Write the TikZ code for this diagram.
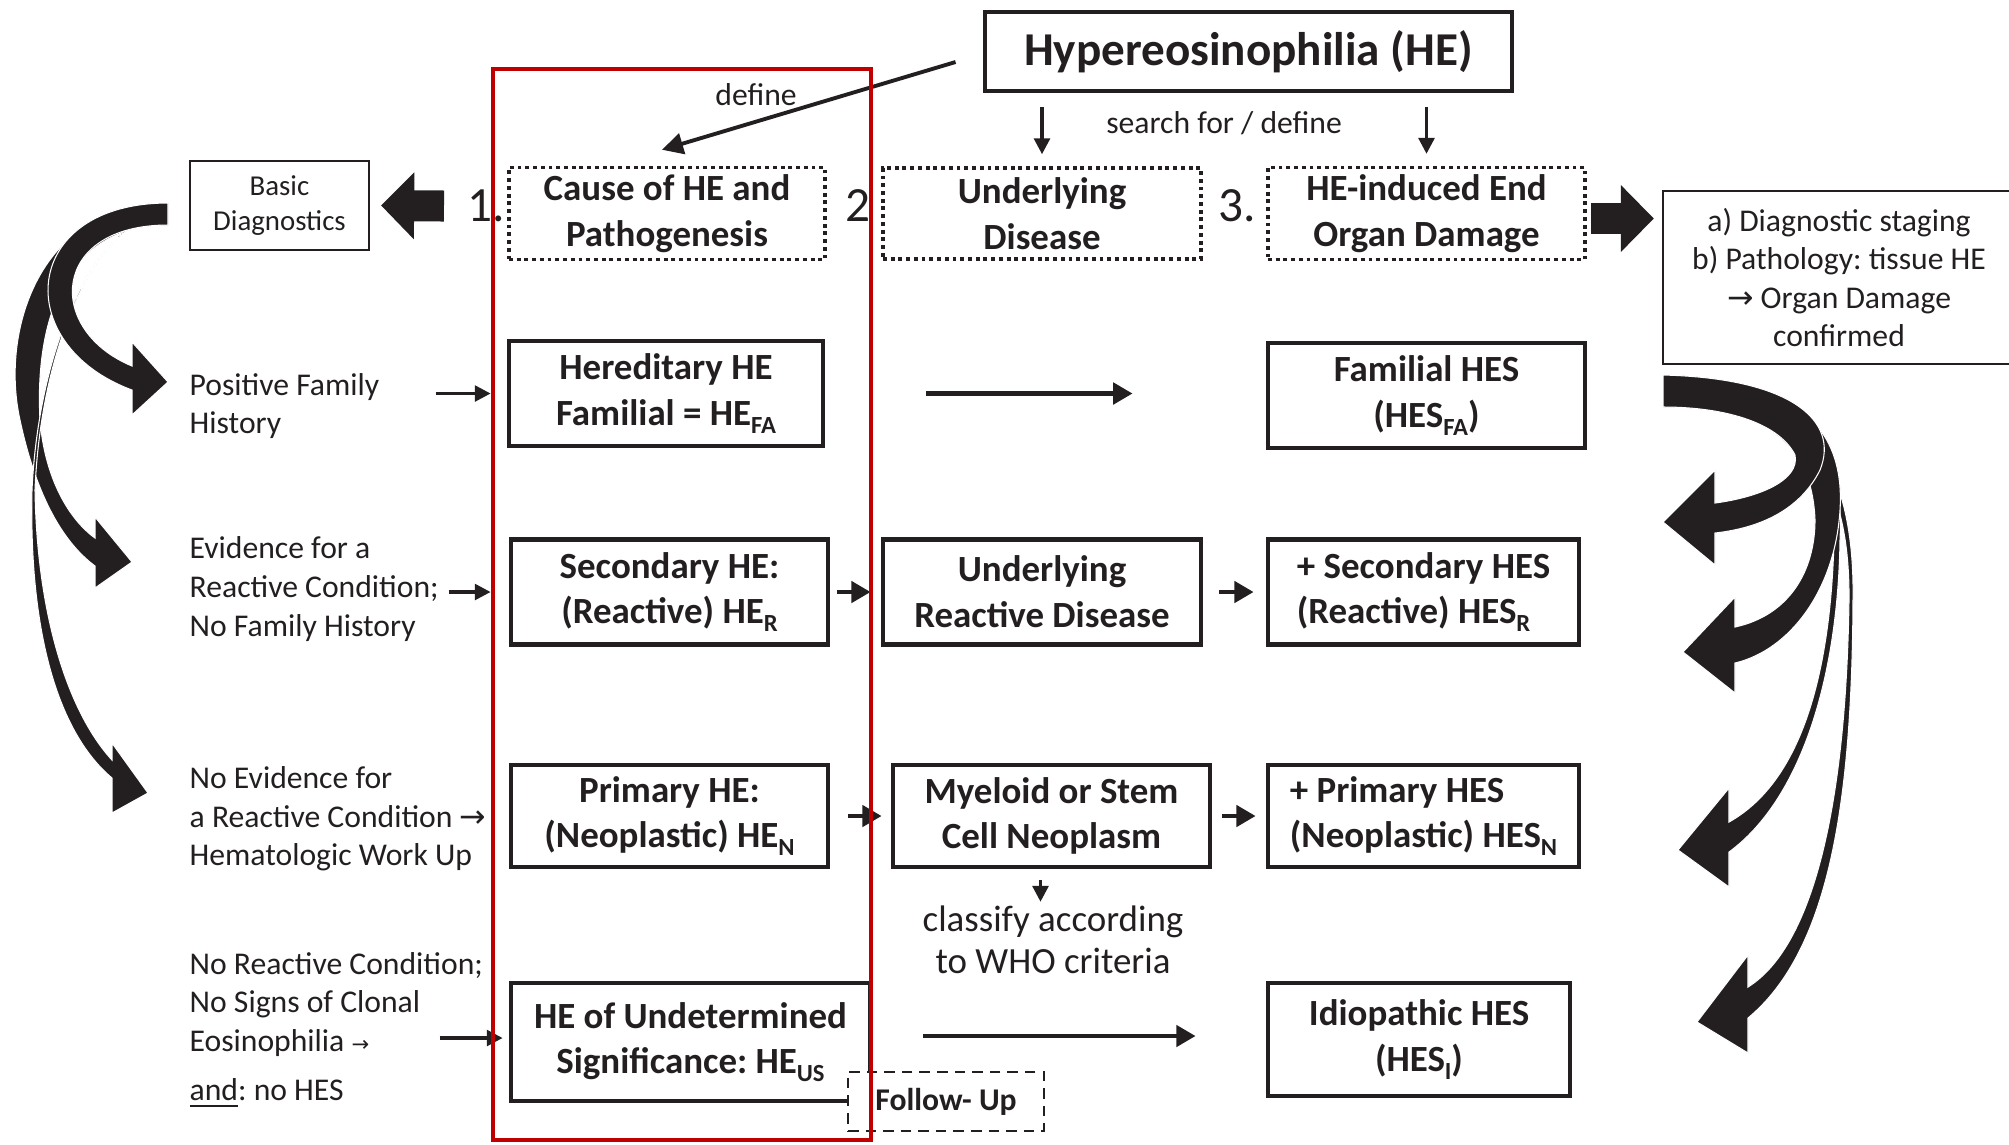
\documentclass[tikz,border=0pt]{standalone}
\usepackage{fontspec}
\setmainfont{Carlito}
\newfontfamily\arrowfont{DejaVu Sans}
\usetikzlibrary{arrows.meta}
\definecolor{ink}{RGB}{35,31,32}
\definecolor{framered}{RGB}{192,0,0}
\frenchspacing
\newcommand{\lowidx}[1]{\raisebox{-0.45ex}{\fontsize{7}{7}\selectfont #1}}
\newcommand{\toarrow}{{\arrowfont →}}
\newcommand{\smalltoarrow}{{\arrowfont\fontsize{6}{6}\selectfont →}}
\tikzset{
  mainbox/.style={draw=ink, line width=1.3pt, align=center, inner sep=2pt,
    minimum height=1.05cm, font=\fontsize{10.5}{13}\selectfont\bfseries, text=ink},
  dotbox/.style={draw=ink, line width=1pt, dash pattern=on 1.1pt off 1.1pt,
    align=center, inner sep=2pt, minimum height=0.91cm,
    font=\fontsize{10.5}{13}\selectfont\bfseries, text=ink},
  thinbox/.style={draw=ink, line width=0.6pt, align=center, inner sep=2pt, text=ink},
  sidetext/.style={anchor=west, align=left, inner sep=0pt,
    font=\fontsize{9}{11}\selectfont, text=ink},
  numlabel/.style={anchor=west, inner sep=0pt, font=\fontsize{14}{14}\selectfont, text=ink},
  smalllabel/.style={inner sep=1pt, align=center, font=\fontsize{9}{11}\selectfont, text=ink},
  thinarr/.style={draw=ink, line width=0.9pt, -{Triangle[length=4.5pt,width=4.5pt]}},
  rowarr/.style={draw=ink, line width=1.3pt, -{Triangle[length=5.5pt,width=6pt]}},
  fatarr/.style={draw=ink, line width=0.31cm, -{Triangle[length=0.33cm,width=0.65cm]}},
  bentarr/.style={fill=ink, draw=white, line width=0.3pt}
}

\begin{document}
\begin{tikzpicture}[x=0.01cm, y=-0.01cm]
    \useasboundingbox (0,0) rectangle (2009,1144);

    \node[mainbox, minimum width=5.27cm, minimum height=0.79cm,
          font=\fontsize{13.4}{16}\selectfont\bfseries] (he) at (1248.5,51.5) {Hypereosinophilia (HE)};

    \node[dotbox, minimum width=3.16cm] (cause) at (667,213.5) {Cause of HE and\\Pathogenesis};
    \node[dotbox, minimum width=3.18cm] (under) at (1042,213.5) {Underlying\\Disease};
    \node[dotbox, minimum width=3.17cm] (organ) at (1426.5,213.5) {HE-induced End\\Organ Damage};

    \node[numlabel] (num1) at (467,206) {1.};
    \node[numlabel] (num2) at (845,206) {2};
    \node[numlabel] (num3) at (1218,206) {3.};

    \node[thinbox, minimum width=1.79cm, minimum height=0.89cm,
          font=\fontsize{8.2}{10}\selectfont] (basic) at (279.5,205.5) {Basic\\Diagnostics};
    \node[thinbox, minimum width=3.52cm, minimum height=1.73cm,
          font=\fontsize{9}{10.9}\selectfont] (diag) at (1839,277.5)
          {a) Diagnostic staging\\b) Pathology: tissue HE\\\toarrow{} Organ Damage\\confirmed};

    \node[smalllabel] (deflabel) at (756,95) {define};
    \node[smalllabel] (srch) at (1224,123) {search for / define};

    \node[sidetext] (pfh) at (189,406) {Positive Family\\History};
    \node[sidetext] (evid) at (189,589) {Evidence for a\\Reactive Condition;\\No Family History};
    \node[sidetext] (noevid) at (189,819) {No Evidence for\\a Reactive Condition \toarrow\\Hematologic Work Up};
    \node[sidetext] (noreac) at (189,1030) {No Reactive Condition;\\No Signs of Clonal\\Eosinophilia \smalltoarrow\\[3pt]\underline{and}: no HES};

    \node[mainbox, minimum width=3.14cm] (hered) at (666,393.5) {Hereditary HE\\Familial = HE\lowidx{FA}};
    \node[mainbox, minimum width=3.17cm] (famhes) at (1426.5,395.5) {Familial HES\\(HES\lowidx{FA})};

    \node[mainbox, minimum width=3.17cm] (sec) at (669.5,592) {Secondary HE:\\(Reactive) HE\lowidx{R}};
    \node[mainbox, minimum width=3.18cm] (urd) at (1042,592) {Underlying\\Reactive Disease};
    \node[mainbox, minimum width=3.11cm, align=left] (seches) at (1423.5,592) {+ Secondary HES\\(Reactive) HES\lowidx{R}};

    \node[mainbox, minimum width=3.17cm, minimum height=1.02cm] (prim) at (669.5,816) {Primary HE:\\(Neoplastic) HE\lowidx{N}};
    \node[mainbox, minimum width=3.17cm, minimum height=1.02cm] (myel) at (1051.5,816) {Myeloid or Stem\\Cell Neoplasm};
    \node[mainbox, minimum width=3.11cm, minimum height=1.02cm, align=left] (primhes) at (1423.5,816) {+ Primary HES\\(Neoplastic) HES\lowidx{N}};

    \node[smalllabel, font=\fontsize{10.5}{12}\selectfont] (who) at (1053,940) {classify according\\to WHO criteria};

    \node[mainbox, minimum width=3.59cm, minimum height=1.18cm] (hus) at (690.5,1042) {HE of Undetermined\\Significance: HE\lowidx{US}};
    \node[mainbox, minimum width=3.02cm, minimum height=1.13cm] (idio) at (1419,1039.5) {Idiopathic HES\\(HES\lowidx{I})};
    \node[thinbox, fill=white, dash pattern=on 3pt off 2pt, minimum width=1.96cm, minimum height=0.59cm,
          font=\fontsize{9}{11}\selectfont\bfseries] (follow) at (946,1101.5) {Follow- Up};

    \draw[thinarr, line width=1.1pt, -{Triangle[length=6pt,width=6pt]}]
        ([xshift=-0.27cm,yshift=-0.105cm]he.west) -- ([xshift=-0.05cm,yshift=0.16cm]cause.north);
    \draw[thinarr] ([yshift=-0.14cm]he.south -| under.north) -- ([yshift=0.12cm]under.north);
    \draw[thinarr] ([yshift=-0.14cm]he.south -| organ.north) -- ([yshift=0.12cm]organ.north);

    \draw[fatarr] ([xshift=-0.23cm]num1.west) -- ([xshift=0.11cm]basic.east);
    \draw[fatarr] ([xshift=0.04cm,yshift=-0.05cm]organ.east) -- ([xshift=-0.08cm,yshift=-0.05cm]organ.east -| diag.west);

    \draw[thinarr] ([xshift=-0.71cm]hered.west) -- ([xshift=-0.16cm]hered.west);
    \draw[thinarr] ([xshift=-0.60cm]sec.west) -- ([xshift=-0.18cm]sec.west);
    \draw[thinarr] ([xshift=-0.69cm,yshift=0.04cm]hus.west) -- ([xshift=-0.06cm,yshift=0.04cm]hus.west);

    \draw[rowarr] ([xshift=1.01cm]hered.east) -- ([xshift=-1.33cm]hered.east -| famhes.west);
    \draw[rowarr] ([xshift=0.07cm]sec.east) -- ([xshift=-0.10cm]urd.west);
    \draw[rowarr] ([xshift=0.16cm]urd.east) -- ([xshift=-0.12cm]seches.west);
    \draw[rowarr] ([xshift=0.18cm]prim.east) -- ([xshift=-0.09cm]prim.east -| myel.west);
    \draw[rowarr] ([xshift=0.10cm]myel.east) -- ([xshift=-0.10cm]myel.east -| primhes.west);
    \draw[rowarr] ([xshift=0.51cm,yshift=0.06cm]hus.east) -- ([xshift=-0.70cm,yshift=0.06cm]hus.east -| idio.west);
    \draw[thinarr] ([xshift=-0.11cm,yshift=-0.11cm]myel.south) -- ([xshift=-0.11cm]myel.south |- who.north);

    \filldraw[bentarr] (168,203) .. controls (40,203) and (0,330) .. (20,420)
        .. controls (35,490) and (60,540) .. (95,566) -- (95,588) -- (132,562) -- (95,517) -- (95,538)
        .. controls (70,520) and (45,480) .. (40,420) .. controls (35,330) and (60,225) .. (168,225) -- cycle;
    \filldraw[bentarr] (168,213) .. controls (100,213) and (39,340) .. (32,490)
        .. controls (29,625) and (55,730) .. (112,778) -- (112,813) -- (148,793) -- (112,743) -- (112,760)
        .. controls (68,712) and (37,615) .. (35,490) .. controls (41,340) and (100,215) .. (168,215) -- cycle;
    \filldraw[bentarr] (168,203) .. controls (20,203) and (10,345) .. (132,390)
        -- (132,415) -- (168,382) -- (132,342) -- (132,366)
        .. controls (45,330) and (50,225) .. (168,225) -- cycle;

    \filldraw[bentarr] (1663,378) .. controls (1810,380) and (1855,470) .. (1853,600)
        .. controls (1852,800) and (1830,950) .. (1748,1018) -- (1748,1053) -- (1697,1022) -- (1748,955) -- (1748,987)
        .. controls (1815,945) and (1846,800) .. (1849,600) .. controls (1850,470) and (1800,395) .. (1663,395) -- cycle;
    \filldraw[bentarr] (1663,378) .. controls (1800,380) and (1845,440) .. (1840,540)
        .. controls (1838,680) and (1800,800) .. (1729,852) -- (1729,887) -- (1678,850) -- (1729,788) -- (1729,822)
        .. controls (1795,785) and (1830,690) .. (1834,540) .. controls (1834,440) and (1780,400) .. (1663,400) -- cycle;
    \filldraw[bentarr] (1663,375) .. controls (1800,378) and (1845,430) .. (1840,510)
        .. controls (1835,590) and (1790,650) .. (1735,663) -- (1735,693) -- (1683,652) -- (1735,597) -- (1735,627)
        .. controls (1790,615) and (1815,570) .. (1815,520) .. controls (1812,440) and (1760,407) .. (1663,407) -- cycle;
    \filldraw[bentarr] (1663,375) .. controls (1790,378) and (1840,420) .. (1820,470)
        .. controls (1800,510) and (1760,528) .. (1715,533) -- (1715,565) -- (1663,522) -- (1715,470) -- (1715,503)
        .. controls (1760,497) and (1800,480) .. (1795,455) .. controls (1780,425) and (1730,407) .. (1663,407) -- cycle;

    \draw[framered, line width=1.2pt] (493,69) rectangle (871,1140);
\end{tikzpicture}
\end{document}
